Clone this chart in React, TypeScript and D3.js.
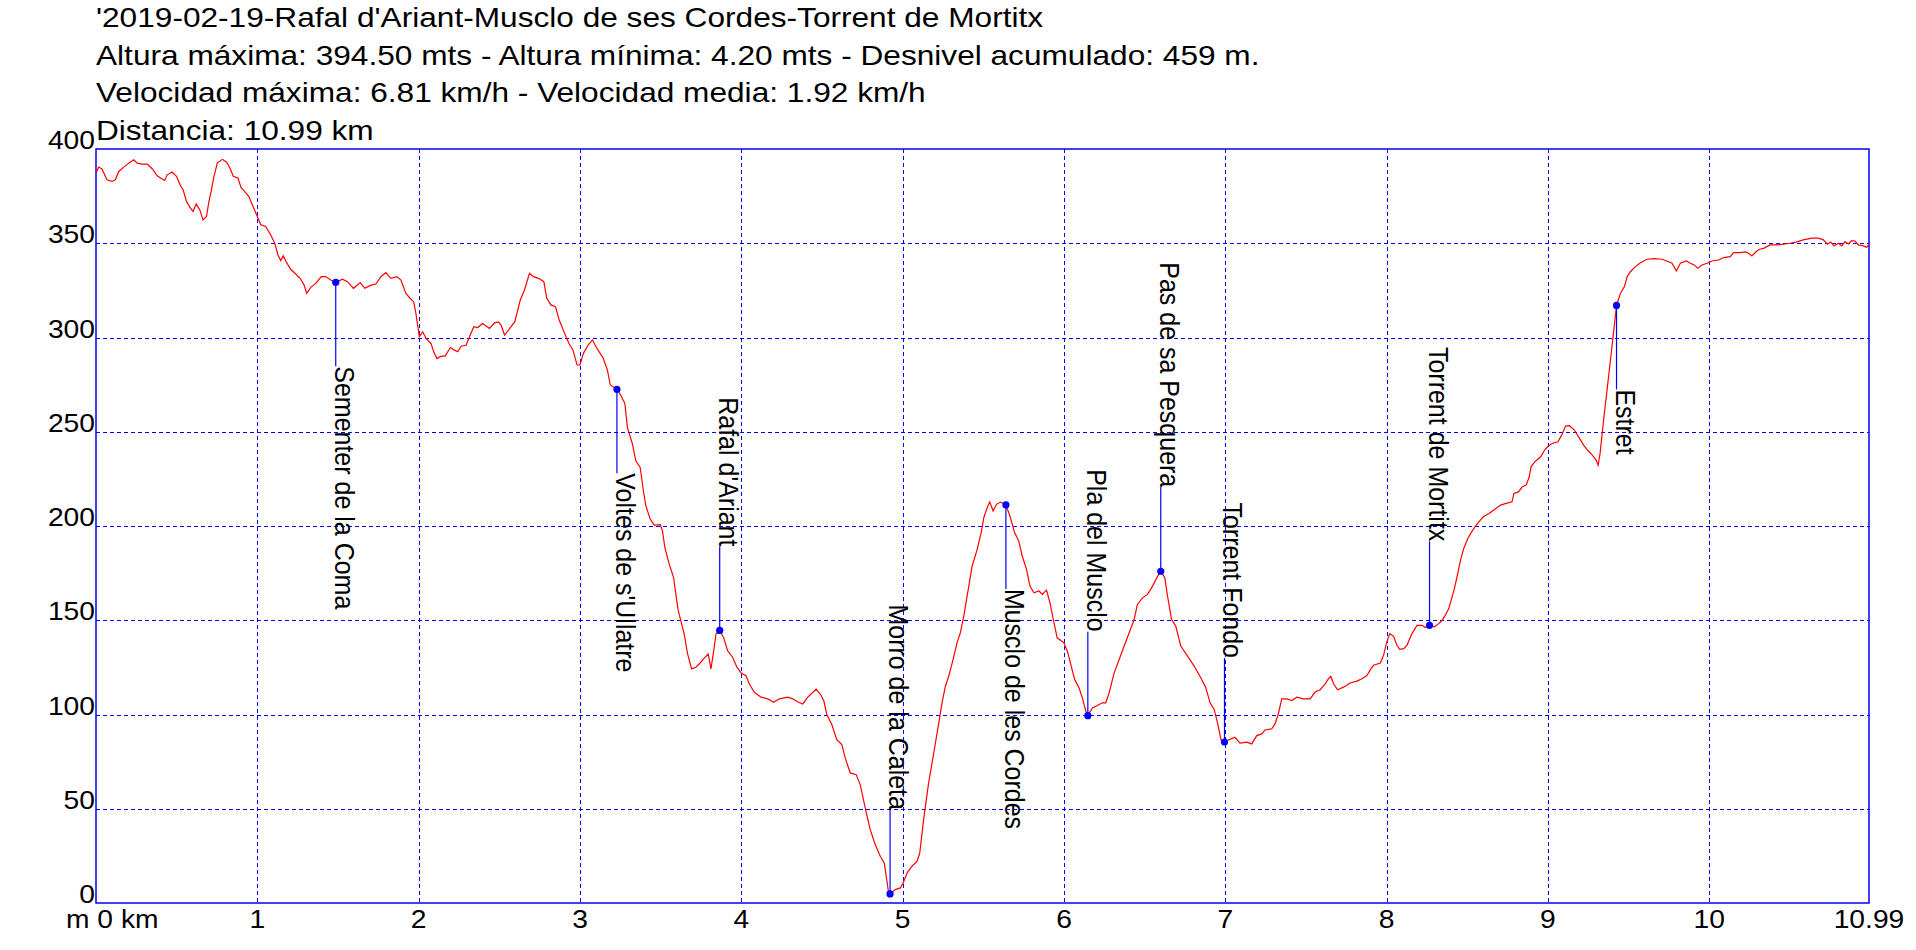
import React, { useEffect } from "react";
import * as d3 from "d3";

// ---------- DATA ----------
const titleLines = [
  "'2019-02-19-Rafal d'Ariant-Musclo de ses Cordes-Torrent de Mortitx",
  "Altura máxima: 394.50 mts - Altura mínima: 4.20 mts - Desnivel acumulado: 459 m.",
  "Velocidad máxima: 6.81 km/h - Velocidad media: 1.92 km/h",
  "Distancia: 10.99 km",
];

const yTicks = [0, 50, 100, 150, 200, 250, 300, 350, 400];
const xTicks = [1, 2, 3, 4, 5, 6, 7, 8, 9, 10];
const xEndLabel = "10.99";
const axisUnitLabel = "m 0 km";
const totalKm = 10.99;
const maxElev = 400;

const distKm = [
  0, 0.017, 0.037, 0.068, 0.099, 0.12, 0.141, 0.172, 0.203, 0.234, 0.255, 0.286, 0.317, 0.35, 0.379, 0.4, 0.426, 0.441, 0.472, 0.499,
  0.524, 0.54, 0.561, 0.586, 0.602, 0.621, 0.644, 0.663, 0.685, 0.7, 0.714, 0.731, 0.752, 0.783, 0.81, 0.83, 0.851, 0.88, 0.9, 0.921,
  0.948, 0.969, 1.0, 1.021, 1.052, 1.083, 1.108, 1.128, 1.145, 1.161, 1.182, 1.207, 1.238, 1.265, 1.29, 1.306, 1.331, 1.362, 1.397, 1.424,
  1.455, 1.486, 1.528, 1.559, 1.596, 1.638, 1.666, 1.704, 1.735, 1.766, 1.797, 1.828, 1.865, 1.89, 1.921, 1.948, 1.969, 1.983, 1.998, 2.004,
  2.025, 2.046, 2.077, 2.093, 2.114, 2.139, 2.164, 2.197, 2.222, 2.242, 2.263, 2.294, 2.315, 2.342, 2.366, 2.397, 2.439, 2.47, 2.495, 2.511,
  2.532, 2.558, 2.596, 2.63, 2.656, 2.687, 2.712, 2.743, 2.776, 2.794, 2.82, 2.848, 2.871, 2.905, 2.931, 2.956, 2.982, 3.0, 3.021, 3.051,
  3.077, 3.111, 3.144, 3.17, 3.188, 3.229, 3.252, 3.278, 3.294, 3.325, 3.346, 3.373, 3.393, 3.408, 3.435, 3.46, 3.497, 3.511, 3.526, 3.553,
  3.58, 3.594, 3.609, 3.625, 3.646, 3.667, 3.692, 3.718, 3.739, 3.766, 3.795, 3.812, 3.832, 3.843, 3.866, 3.89, 3.915, 3.946, 3.973, 4.0,
  4.029, 4.05, 4.081, 4.122, 4.164, 4.201, 4.236, 4.288, 4.319, 4.354, 4.381, 4.412, 4.464, 4.495, 4.512, 4.53, 4.561, 4.592, 4.623, 4.644,
  4.675, 4.712, 4.737, 4.768, 4.799, 4.83, 4.861, 4.886, 4.903, 4.913, 4.922, 4.954, 4.986, 5.002, 5.027, 5.058, 5.089, 5.106, 5.13, 5.161,
  5.193, 5.224, 5.244, 5.265, 5.286, 5.313, 5.337, 5.358, 5.379, 5.41, 5.431, 5.462, 5.487, 5.503, 5.524, 5.54, 5.561, 5.582, 5.607, 5.64,
  5.665, 5.694, 5.72, 5.741, 5.768, 5.789, 5.814, 5.845, 5.866, 5.892, 5.913, 5.934, 5.958, 6.0, 6.021, 6.045, 6.066, 6.093, 6.114, 6.135,
  6.148, 6.176, 6.207, 6.238, 6.259, 6.28, 6.311, 6.342, 6.373, 6.404, 6.435, 6.455, 6.487, 6.518, 6.549, 6.576, 6.6, 6.625, 6.642, 6.667,
  6.693, 6.724, 6.766, 6.807, 6.848, 6.879, 6.906, 6.931, 6.952, 6.973, 6.985, 6.995, 7.025, 7.06, 7.091, 7.133, 7.164, 7.195, 7.226, 7.246,
  7.288, 7.308, 7.329, 7.35, 7.381, 7.412, 7.443, 7.484, 7.526, 7.557, 7.588, 7.619, 7.64, 7.654, 7.671, 7.696, 7.733, 7.774, 7.816, 7.847,
  7.878, 7.903, 7.919, 7.961, 7.981, 7.998, 8.019, 8.043, 8.064, 8.081, 8.106, 8.126, 8.157, 8.188, 8.219, 8.24, 8.266, 8.296, 8.323, 8.344,
  8.364, 8.385, 8.406, 8.42, 8.441, 8.458, 8.478, 8.503, 8.524, 8.551, 8.582, 8.599, 8.635, 8.658, 8.706, 8.741, 8.777, 8.789, 8.817, 8.841,
  8.865, 8.884, 8.895, 8.919, 8.955, 8.979, 9.002, 9.026, 9.062, 9.085, 9.109, 9.133, 9.164, 9.192, 9.221, 9.245, 9.275, 9.299, 9.311, 9.323,
  9.346, 9.37, 9.394, 9.411, 9.425, 9.449, 9.474, 9.491, 9.511, 9.542, 9.573, 9.614, 9.656, 9.707, 9.748, 9.769, 9.796, 9.821, 9.858, 9.882,
  9.907, 9.928, 9.955, 9.986, 10.016, 10.058, 10.089, 10.13, 10.151, 10.192, 10.223, 10.243, 10.264, 10.291, 10.311, 10.336, 10.377, 10.419, 10.46, 10.501,
  10.542, 10.583, 10.635, 10.676, 10.707, 10.732, 10.753, 10.773, 10.8, 10.821, 10.841, 10.862, 10.883, 10.903, 10.924, 10.955, 10.975, 10.99,
];

const elevM = [
  387.2, 390.4, 389.4, 383.7, 382.8, 383.7, 388.1, 390.4, 392.5, 394.3, 392.5, 392.0, 392.0, 389.4, 385.8, 384.6, 383.3, 386.3, 387.8, 385.5,
  380.5, 378.4, 372.2, 368.6, 366.8, 370.9, 367.7, 362.4, 364.2, 372.2, 377.5, 385.5, 392.5, 394.5, 393.0, 389.9, 385.5, 384.6, 379.3, 377.5,
  374.8, 370.4, 364.2, 359.8, 358.9, 354.4, 350.0, 343.8, 340.8, 343.3, 339.7, 336.2, 333.7, 331.4, 327.8, 323.4, 326.6, 328.7, 332.3, 332.3,
  330.5, 329.3, 330.9, 329.6, 326.1, 329.1, 326.1, 327.8, 328.4, 332.3, 334.4, 331.4, 332.3, 330.5, 323.4, 320.7, 319.0, 312.8, 303.9, 300.4,
  303.0, 299.5, 296.8, 292.4, 288.8, 290.1, 290.1, 294.7, 293.3, 292.4, 295.4, 295.9, 300.4, 305.7, 305.3, 307.4, 304.8, 307.8, 308.3, 306.6,
  301.3, 304.0, 308.4, 319.9, 325.2, 334.1, 332.3, 331.4, 329.6, 320.8, 317.3, 316.4, 309.3, 302.2, 296.9, 293.4, 285.4, 285.4, 291.6, 296.0,
  298.7, 293.4, 289.0, 282.7, 274.8, 272.5, 269.5, 265.0, 252.3, 243.5, 234.6, 231.1, 218.7, 210.8, 203.7, 200.5, 200.7, 197.5, 188.7, 179.8,
  172.8, 163.9, 155.1, 149.8, 142.7, 132.1, 124.2, 125.1, 126.8, 129.5, 132.1, 124.2, 135.6, 142.7, 144.6, 140.9, 133.9, 130.4, 125.1, 121.9,
  120.6, 116.2, 111.8, 109.2, 108.3, 106.5, 108.3, 109.2, 108.3, 106.5, 105.6, 109.2, 113.4, 110.1, 107.0, 100.0, 94.7, 86.7, 84.1, 77.0,
  69.0, 68.1, 62.8, 50.4, 38.9, 31.0, 24.8, 21.2, 11.5, 5.3, 4.8, 7.1, 8.0, 10.3, 15.9, 19.5, 22.1, 26.5, 44.2, 63.7,
  79.6, 95.6, 106.2, 115.0, 120.4, 129.2, 138.0, 143.4, 152.2, 168.1, 178.8, 187.6, 196.5, 204.4, 209.7, 212.7, 208.0, 211.5, 212.7, 211.2,
  205.3, 196.5, 192.0, 184.1, 177.0, 168.1, 164.6, 165.5, 163.7, 166.0, 159.3, 150.4, 140.7, 138.0, 133.6, 125.7, 118.6, 114.2, 108.8, 101.8,
  99.4, 103.5, 104.8, 106.2, 106.2, 111.5, 122.1, 129.2, 136.3, 143.4, 150.4, 158.4, 161.9, 163.7, 168.1, 172.6, 176.0, 172.6, 162.8, 150.4,
  146.9, 136.3, 131.0, 125.7, 119.5, 114.2, 106.2, 102.7, 95.6, 86.7, 84.1, 85.4, 86.7, 87.9, 84.8, 85.3, 84.4, 88.8, 89.7, 91.8,
  92.4, 95.0, 100.4, 108.3, 108.3, 107.4, 109.2, 108.3, 108.3, 111.9, 113.1, 116.3, 119.0, 120.2, 116.3, 113.1, 114.5, 116.7, 117.7, 119.0,
  120.7, 124.3, 126.1, 127.3, 131.4, 137.6, 142.9, 141.5, 136.7, 134.6, 134.9, 136.7, 142.9, 147.3, 147.3, 146.1, 147.3, 146.5, 148.2, 150.0,
  152.7, 156.2, 162.4, 166.8, 174.8, 181.9, 188.1, 193.4, 196.5, 200.0, 203.2, 204.9, 206.6, 208.1, 211.1, 212.0, 212.8, 217.3, 218.1, 220.8,
  221.7, 226.1, 231.4, 234.1, 236.7, 240.3, 242.4, 243.8, 244.7, 248.2, 253.0, 253.2, 250.9, 247.0, 242.9, 240.3, 237.6, 235.0, 232.3, 238.5,
  257.0, 275.0, 293.0, 306.0, 317.0, 323.4, 327.0, 332.3, 334.9, 337.6, 339.7, 341.5, 341.8, 341.5, 340.2, 339.4, 335.3, 339.4, 340.6, 339.4,
  338.5, 336.7, 338.5, 339.4, 340.6, 341.1, 342.4, 342.9, 345.0, 345.0, 345.4, 344.7, 343.3, 345.6, 346.8, 347.3, 349.1, 349.1, 349.5, 350.0,
  350.7, 351.8, 352.7, 352.7, 351.8, 349.5, 350.7, 348.6, 350.0, 348.6, 350.9, 349.6, 351.4, 351.2, 349.1, 348.6, 347.9, 349.1,
];

const wpNames = [
  "Sementer de la Coma",
  "Voltes de s'Ullatre",
  "Rafal d'Ariant",
  "Morro de la Caleta",
  "Musclo de les Cordes",
  "Pla del Musclo",
  "Pas de sa Pesquera",
  "Torrent Fondo",
  "Torrent de Mortitx",
  "Estret",
];
const wpKm = [1.486, 3.229, 3.866, 4.922, 5.64, 6.148, 6.6, 6.995, 8.266, 9.425];
const wpElev = [329.3, 272.5, 144.6, 4.8, 211.2, 99.4, 176.0, 85.4, 147.3, 317.0];
const wpSide = ["below", "below", "above", "above", "below", "above", "above", "above", "above", "below"];

// ---------- STYLE ----------
const W = 1916;
const H = 950;
const M = { left: 96, right: 1869, top: 149, bottom: 903 };
const FONT = "Arial, 'Liberation Sans', sans-serif";
const SX = 1.13; // horizontal text stretch seen in the reference
const BLUE = "#0000ff";
const RED = "#ff0000";
const LEADER = 84;

export default function App() {
  useEffect(() => {
    document.body.style.margin = "0";
    document.body.style.overflow = "hidden";
  }, []);

  const x = d3.scaleLinear().domain([0, totalKm]).range([M.left, M.right]);
  const y = d3.scaleLinear().domain([0, maxElev]).range([M.bottom, M.top]);

  const pts = distKm.map((d, i) => [d, elevM[i]] as [number, number]);
  const line = d3
    .line<[number, number]>()
    .x((d) => x(d[0]))
    .y((d) => y(d[1]));

  const gridY = yTicks.filter((t) => t > 0 && t < maxElev);

  return (
    <svg
      width={W}
      height={H}
      style={{ position: "absolute", left: 0, top: 0, background: "#fff" }}
      fontFamily={FONT}
    >
      <rect x={0} y={0} width={W} height={H} fill="#fff" />

      {/* title */}
      {titleLines.map((t, i) => (
        <text
          key={i}
          transform={`translate(${M.left},${27 + i * 37.7}) scale(${SX},1)`}
          fontSize={28}
          fill="#000"
        >
          {t}
        </text>
      ))}

      {/* grid */}
      {gridY.map((t) => (
        <line
          key={"gy" + t}
          x1={M.left}
          x2={M.right}
          y1={Math.round(y(t)) + 0.5}
          y2={Math.round(y(t)) + 0.5}
          stroke={BLUE}
          strokeWidth={1}
          strokeDasharray="4,3"
        />
      ))}
      {xTicks.map((t) => (
        <line
          key={"gx" + t}
          x1={Math.round(x(t)) + 0.5}
          x2={Math.round(x(t)) + 0.5}
          y1={M.top}
          y2={M.bottom}
          stroke={BLUE}
          strokeWidth={1}
          strokeDasharray="4,3"
        />
      ))}

      {/* frame */}
      <rect
        x={M.left}
        y={M.top}
        width={M.right - M.left}
        height={M.bottom - M.top}
        fill="none"
        stroke={BLUE}
        strokeWidth={1.5}
      />

      {/* profile */}
      <path d={line(pts) || ""} fill="none" stroke={RED} strokeWidth={1.2} />

      {/* y labels */}
      {yTicks.map((t) => (
        <text
          key={"yl" + t}
          transform={`translate(${M.left - 1},${y(t)}) scale(${SX},1)`}
          textAnchor="end"
          fontSize={25}
          fill="#000"
        >
          {t}
        </text>
      ))}

      {/* x labels */}
      {xTicks.map((t) => (
        <text
          key={"xl" + t}
          transform={`translate(${x(t)},928) scale(${SX},1)`}
          textAnchor="middle"
          fontSize={25}
          fill="#000"
        >
          {t}
        </text>
      ))}
      <text
        transform={`translate(${x(totalKm)},928) scale(${SX},1)`}
        textAnchor="middle"
        fontSize={25}
        fill="#000"
      >
        {xEndLabel}
      </text>
      <text transform={`translate(66,928) scale(${SX},1)`} fontSize={25} fill="#000">
        {axisUnitLabel}
      </text>

      {/* waypoints */}
      {wpNames.map((name, i) => {
        const px = x(wpKm[i]);
        const py = y(wpElev[i]);
        const below = wpSide[i] === "below";
        const ey = below ? py + LEADER : py - LEADER;
        return (
          <g key={"wp" + i}>
            <line x1={px} x2={px} y1={py} y2={ey} stroke={BLUE} strokeWidth={1.2} />
            <circle cx={px} cy={py} r={3.6} fill={BLUE} />
            <text
              transform={`translate(${px - 1},${ey}) scale(${SX},1) rotate(90)`}
              textAnchor={below ? "start" : "end"}
              fontSize={25}
              fill="#000"
            >
              {name}
            </text>
          </g>
        );
      })}
    </svg>
  );
}
